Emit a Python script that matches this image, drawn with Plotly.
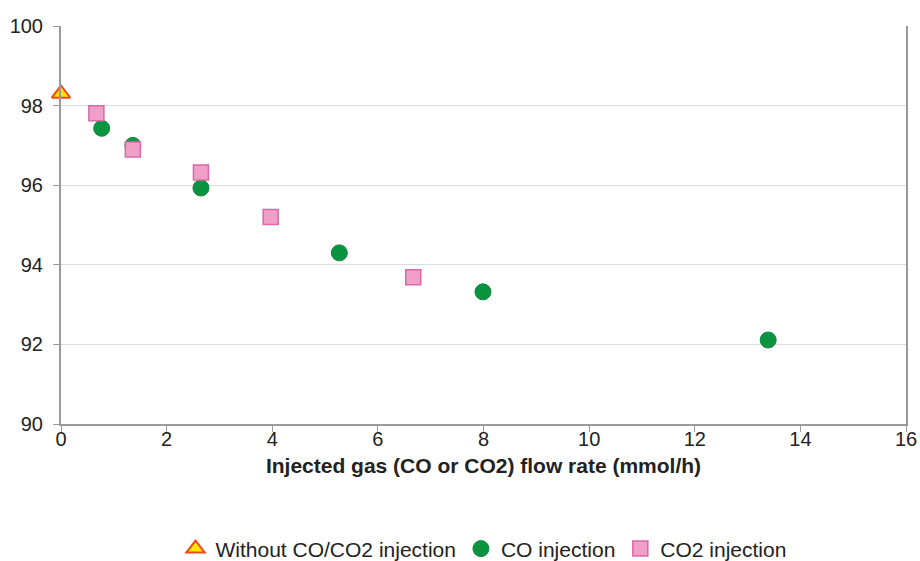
import plotly.graph_objects as go

base_x = [0.0]
base_y = [98.3]
co_x = [0.77, 1.36, 2.65, 5.27, 7.99, 13.39]
co_y = [97.43, 97.0, 95.93, 94.3, 93.32, 92.11]
co2_x = [0.67, 1.36, 2.65, 3.97, 6.67]
co2_y = [97.81, 96.9, 96.32, 95.2, 93.69]

x_ticks = [0, 2, 4, 6, 8, 10, 12, 14, 16]
y_ticks = [90, 92, 94, 96, 98, 100]

font = "Liberation Sans, Arial, sans-serif"

fig = go.Figure()
fig.add_trace(go.Scatter(
    x=base_x, y=base_y, mode="markers", name="Without CO/CO2 injection",
    marker=dict(symbol="triangle-up", size=16, color="#ffe600",
                line=dict(color="#f04a1c", width=2)),
    cliponaxis=False))
fig.add_trace(go.Scatter(
    x=co_x, y=co_y, mode="markers", name="CO injection",
    marker=dict(symbol="circle", size=16, color="#0a9440",
                line=dict(color="#0a8a3c", width=1)),
    cliponaxis=False))
fig.add_trace(go.Scatter(
    x=co2_x, y=co2_y, mode="markers", name="CO2 injection",
    marker=dict(symbol="square", size=15, color="#f0a0c8",
                line=dict(color="#d868a8", width=1.5)),
    cliponaxis=False))

fig.update_layout(
    width=920, height=561,
    paper_bgcolor="white", plot_bgcolor="white",
    margin=dict(l=61, r=14, t=26, b=137, autoexpand=False),
    font=dict(family=font, size=20, color="#222222"),
    showlegend=True,
    legend=dict(orientation="h", x=0.5, xanchor="center", y=-0.314, yanchor="middle",
                font=dict(size=21, color="#222222"), itemwidth=30,
                traceorder="normal", tracegroupgap=0),
    xaxis=dict(range=[0, 16], tickvals=x_ticks, showgrid=False, zeroline=False,
               showline=True, linecolor="#9a9a9a", linewidth=2, automargin=False,
               ticks="outside", ticklen=6, tickcolor="#9a9a9a", tickwidth=1,
               ticklabelstandoff=-10, ticklabeloverflow="allow",
               tickfont=dict(size=20, color="#222222"),
               title=dict(text="<b>Injected gas (CO or CO2) flow rate (mmol/h)</b>",
                          font=dict(size=21, color="#222222"), standoff=9)),
    yaxis=dict(range=[90, 100], tickvals=y_ticks, showgrid=True, gridcolor="#dcdcdc",
               gridwidth=1, zeroline=False, automargin=False,
               showline=True, linecolor="#9a9a9a", linewidth=2, mirror=True,
               ticks="outside", ticklen=6, tickcolor="#9a9a9a",
               ticklabelstandoff=6, ticklabeloverflow="allow",
               tickfont=dict(size=20, color="#222222")),
)

post = ("document.body.style.margin='0';"
        "document.body.style.padding='0';"
        "document.body.style.overflow='hidden';"
        "document.documentElement.style.overflow='hidden';")

fig.write_html("out.html", post_script=post, config={"displayModeBar": False})
